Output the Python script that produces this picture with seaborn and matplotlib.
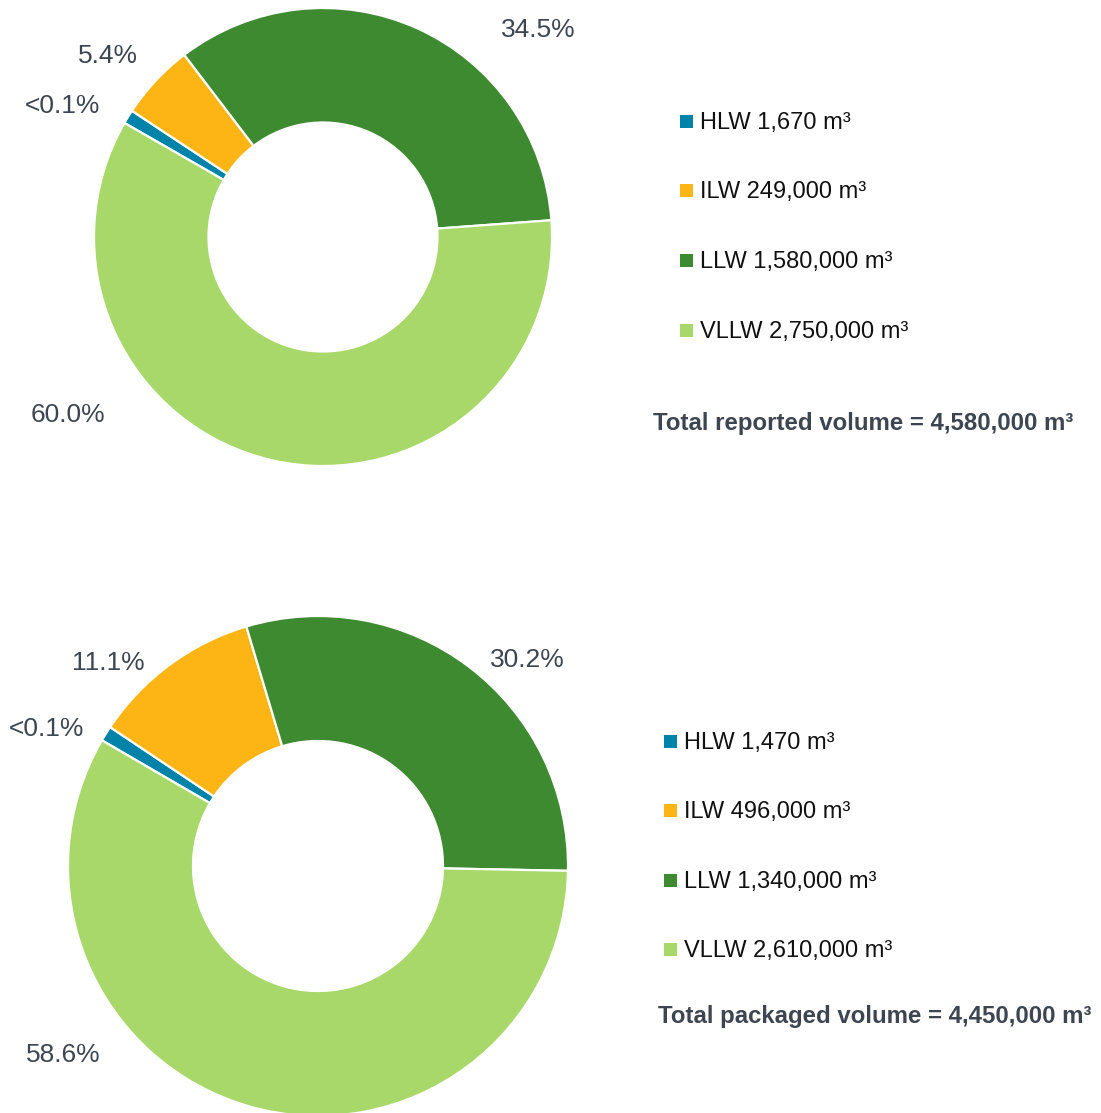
# radioactive waste volumes - two donut charts
import seaborn as sns
import matplotlib.pyplot as plt

sns.set_theme(style='white')
plt.rcParams['font.family'] = ['Liberation Sans', 'DejaVu Sans']

W, H = 1101, 1113

# data
categories = ['HLW', 'ILW', 'LLW', 'VLLW']
reported_volumes = ['1,670', '249,000', '1,580,000', '2,750,000']
packaged_volumes = ['1,470', '496,000', '1,340,000', '2,610,000']
# shares as drawn in the picture (HLW slice is drawn wider than its real <0.1%)
reported_share = [1.0, 5.4, 34.5, 60.0]
packaged_share = [1.0, 11.1, 30.2, 58.6]
reported_labels = ['<0.1%', '5.4%', '34.5%', '60.0%']
packaged_labels = ['<0.1%', '11.1%', '30.2%', '58.6%']
reported_total = '4,580,000'
packaged_total = '4,450,000'

colors = ['#0083a8', '#fdb515', '#3e8a31', '#a8d86a']
text_col = '#3d4650'

fig = plt.figure(figsize=(W / 100, H / 100), dpi=100)


def px(x, y):
    return x / W, 1 - y / H


def donut(cx, cy, r, shares, boundary):
    # axes covering the donut's bounding box in pixels
    ax = fig.add_axes([(cx - r) / W, 1 - (cy + r) / H, 2 * r / W, 2 * r / H])
    # LLW/VLLW boundary sits at `boundary` degrees
    start = boundary + 360 * sum(shares[:3]) / sum(shares)
    wedges, _ = ax.pie(shares, colors=colors, startangle=start, counterclock=False,
                       wedgeprops=dict(width=0.5, edgecolor='white', linewidth=1.6))
    ax.set_xlim(-1, 1)
    ax.set_ylim(-1, 1)
    ax.set_aspect('equal')
    ax.axis('off')
    return wedges


def pct_labels(labels, positions):
    for lab, (x, y) in zip(labels, positions):
        fig.text(*px(x, y + 2), lab, fontsize=19, color=text_col,
                 ha='center', va='center')


def legend_block(wedges, volumes, x_sq, y_rows, total_text, total_xy):
    for w, cat, vol, y in zip(wedges, categories, volumes, y_rows):
        fig.patches.append(plt.Rectangle(px(x_sq, y + 6.5), 13 / W, 13 / H,
                                         transform=fig.transFigure,
                                         facecolor=w.get_facecolor(), edgecolor='none'))
        fig.text(*px(x_sq + 20, y + 2), f'{cat} {vol} m³', fontsize=17,
                 color='#111111', ha='left', va='center')
    fig.text(*px(total_xy[0], total_xy[1] + 2), total_text, fontsize=17.3,
             fontweight='bold', color=text_col, ha='left', va='center')


# top donut: reported volume
w1 = donut(323, 237, 229, reported_share, 4.2)
pct_labels(reported_labels, [(62, 104), (108, 54), (538, 28), (68, 413)])
legend_block(w1, reported_volumes, 680, [121, 190, 260, 330],
             f'Total reported volume = {reported_total} m³', (653, 421))

# bottom donut: packaged volume
w2 = donut(318, 866, 250, packaged_share, -1.1)
pct_labels(packaged_labels, [(46, 727), (108, 661), (527, 658), (63, 1053)])
legend_block(w2, packaged_volumes, 664, [741, 810, 880, 949],
             f'Total packaged volume = {packaged_total} m³', (658, 1014))

fig.savefig('out.png', dpi=100, facecolor='white')
